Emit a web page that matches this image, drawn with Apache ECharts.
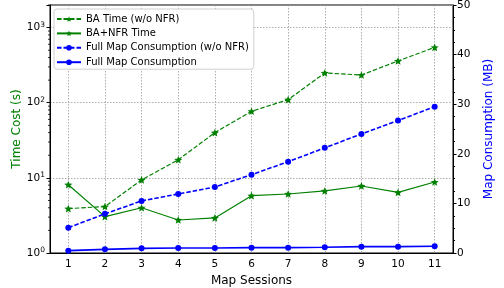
<!DOCTYPE html>
<html><head><meta charset="utf-8">
<script src="https://cdn.jsdelivr.net/npm/echarts@6/dist/echarts.min.js"></script>
<style>html,body{margin:0;padding:0;background:#fff}#c{width:504px;height:288px}</style>
</head><body><div id="c"></div>
<script>
const sessions = ['1','2','3','4','5','6','7','8','9','10','11'];
const baTimeNoNfr = [3.9, 4.15, 9.4, 17.4, 40, 77, 110, 249, 234, 360, 546];
const baNfrTime = [8.1, 3.05, 4.0, 2.75, 2.93, 5.8, 6.1, 6.7, 7.8, 6.4, 8.8];
const fullMapNoNfr = [5.1, 7.9, 10.5, 11.9, 13.3, 15.8, 18.4, 21.2, 24.0, 26.7, 29.5];
const fullMap = [0.47, 0.74, 0.94, 1.0, 1.0, 1.08, 1.08, 1.15, 1.28, 1.28, 1.35];
const logMinorTicks = [2,3,4,5,6,7,8,9,20,30,40,50,60,70,80,90,200,300,400,500,600,700,800,900,2000];
const seriesNames = ['BA Time (w/o NFR)', 'BA+NFR Time', 'Full Map Consumption (w/o NFR)', 'Full Map Consumption'];

const FONT = 'DejaVu Sans';
const GREEN = '#008000', BLUE = '#0000ff';
function starPath() {
  let d = '';
  for (let i = 0; i < 10; i++) {
    const r = i % 2 === 0 ? 1 : 0.45;
    const a = (-90 + i * 36) * Math.PI / 180;
    const x = (r * Math.cos(a)).toFixed(4), y = (r * Math.sin(a)).toFixed(4);
    d += (i === 0 ? 'M' : 'L') + x + ' ' + y + ' ';
  }
  return 'path://' + d + 'Z';
}
const STAR = starPath();

const chart = echarts.init(document.getElementById('c'), null, {renderer: 'canvas'});
chart.setOption({
  animation: false,
  textStyle: {fontFamily: FONT},
  grid: {left: 50, right: 51, top: 5, bottom: 35, containLabel: false, outerBoundsMode: 'none', show: true, borderColor: '#000', borderWidth: 1, backgroundColor: 'transparent'},
  legend: {
    data: seriesNames, orient: 'vertical', left: 54, top: 9,
    backgroundColor: '#fff', borderColor: '#d0d0d0', borderWidth: 1, borderRadius: 3,
    padding: [5, 5, 2, 2], itemWidth: 24, itemHeight: 7, itemGap: 4.4,
    textStyle: {fontSize: 10, color: '#000', fontFamily: FONT}
  },
  xAxis: {
    type: 'category', data: sessions, boundaryGap: true,
    name: 'Map Sessions', nameLocation: 'middle', nameGap: 22, nameMoveOverlap: false,
    nameTextStyle: {fontSize: 12, color: '#000', fontFamily: FONT},
    axisLine: {lineStyle: {color: '#000', width: 1}},
    axisTick: {alignWithLabel: true, length: 3.5, lineStyle: {color: '#000'}},
    axisLabel: {interval: 0, fontSize: 10.5, color: '#000', margin: 6, fontFamily: FONT},
    splitLine: {show: true, alignWithLabel: true, lineStyle: {type: [1.5, 1.5], color: '#999', width: 0.8}}
  },
  yAxis: [{
    type: 'log', logBase: 10, min: 1, max: 2000,
    name: 'Time Cost (s)', nameLocation: 'middle', nameGap: 27, nameRotate: 90, nameMoveOverlap: false,
    nameTextStyle: {fontSize: 12, color: GREEN, fontFamily: FONT},
    axisLine: {show: true, lineStyle: {color: '#000', width: 1}},
    axisTick: {show: true, length: 3.5, lineStyle: {color: '#000'}},
    axisLabel: {
      color: '#000', margin: 5,
      formatter: function (v) {
        const l = Math.log10(v), e = Math.round(l);
        if (Math.abs(l - e) > 1e-6) return '';
        return '{b|10}{s|' + e + '}';
      },
      rich: {b: {fontSize: 10.5, color: '#000', fontFamily: FONT, lineHeight: 13}, s: {fontSize: 7.5, color: '#000', fontFamily: FONT, verticalAlign: 'top', lineHeight: 8}}
    },
    splitLine: {show: true, lineStyle: {type: [1.5, 1.5], color: '#999', width: 0.8}}
  }, {
    type: 'value', min: 0, max: 50, interval: 10, position: 'right',
    name: 'Map Consumption (MB)', nameLocation: 'middle', nameGap: 30, nameRotate: 90, nameMoveOverlap: false,
    nameTextStyle: {fontSize: 12, color: BLUE, fontFamily: FONT},
    axisLine: {show: true, lineStyle: {color: '#000', width: 1}},
    axisTick: {show: true, length: 3.5, lineStyle: {color: '#000'}},
    minorTick: {show: true, splitNumber: 4, length: 2, lineStyle: {color: '#000'}},
    axisLabel: {fontSize: 10.5, color: '#000', margin: 4, fontFamily: FONT},
    splitLine: {show: false}
  }],
  series: [{
    name: seriesNames[0], type: 'line', yAxisIndex: 0, data: baTimeNoNfr,
    symbol: STAR, symbolKeepAspect: true, symbolSize: 8,
    itemStyle: {color: GREEN}, lineStyle: {color: GREEN, width: 1.2, type: [4.5, 2]}, z: 3
  }, {
    name: seriesNames[1], type: 'line', yAxisIndex: 0, data: baNfrTime,
    symbol: STAR, symbolKeepAspect: true, symbolSize: 8,
    itemStyle: {color: GREEN}, lineStyle: {color: GREEN, width: 1.2, type: 'solid'}, z: 3
  }, {
    name: seriesNames[2], type: 'line', yAxisIndex: 1, data: fullMapNoNfr,
    symbol: 'circle', symbolSize: 6,
    itemStyle: {color: BLUE}, lineStyle: {color: BLUE, width: 1.6, type: [4.5, 2]}, z: 3
  }, {
    name: seriesNames[3], type: 'line', yAxisIndex: 1, data: fullMap,
    symbol: 'circle', symbolSize: 6,
    itemStyle: {color: BLUE}, lineStyle: {color: BLUE, width: 1.6, type: 'solid'}, z: 3
  }, {
    type: 'custom', yAxisIndex: 0, silent: true, clip: false, z: 5,
    data: logMinorTicks.map(v => [0, v]),
    renderItem: function (params, api) {
      const y = api.coord([0, api.value(1)])[1];
      const x0 = params.coordSys.x;
      return {type: 'line', shape: {x1: x0 - 2, y1: y, x2: x0, y2: y}, style: {stroke: '#000', lineWidth: 0.8}};
    }
  }]
});
</script></body></html>
